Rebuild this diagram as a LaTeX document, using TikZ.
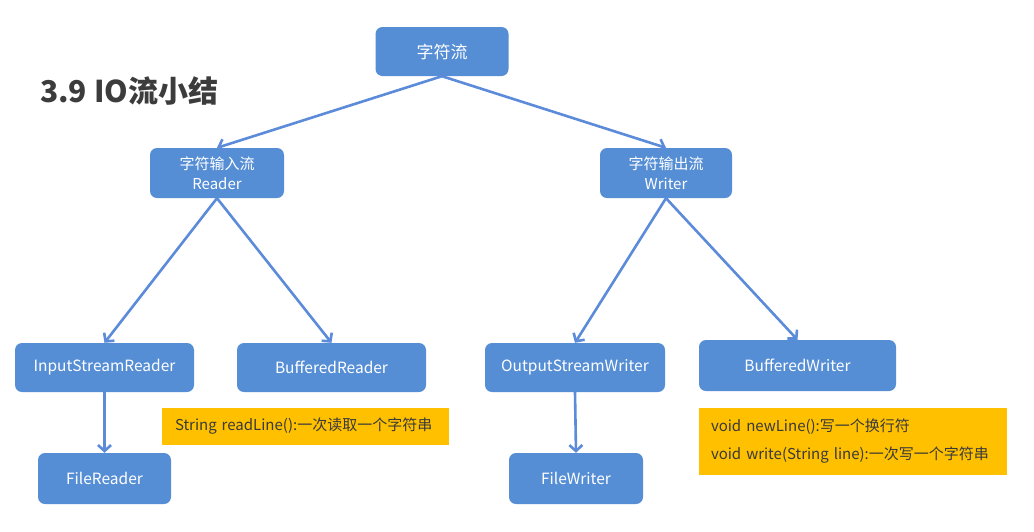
\documentclass[tikz,border=0pt]{standalone}
\usepackage{fontspec}
\setmainfont{Noto Sans CJK SC}
\usetikzlibrary{arrows.meta}
\definecolor{boxblue}{HTML}{558ED5}
\definecolor{arrowblue}{HTML}{5B8BD9}
\definecolor{noteyellow}{HTML}{FFC000}
\definecolor{titlegray}{HTML}{3C3C3C}
\definecolor{notetext}{HTML}{3A3A3A}
\begin{document}
\begin{tikzpicture}[x=1pt,y=-1pt,
  bluebox/.style={draw=none, fill=boxblue, rounded corners=7pt, text=white, inner sep=0pt, align=center, font=\fontsize{15.5}{20}\selectfont},
  notebox/.style={fill=noteyellow, inner ysep=0pt, text=notetext, align=left, font=\fontsize{15}{19}\selectfont},
  conn/.style={draw=arrowblue, line width=2.6pt, -{Straight Barb[length=6pt,width=13pt]}}]
\useasboundingbox (0,0) rectangle (1034,531);
\fill[white] (0,0) rectangle (1034,531);

\node[anchor=base west, text=titlegray, inner sep=0pt, font=\fontsize{30}{34}\selectfont\bfseries] (title) at (40,102) {3.9 IO流小结};

\node[bluebox, minimum width=133pt, minimum height=49pt, font=\fontsize{17}{20}\selectfont] (root) at (442,51.5) {字符流};
\node[bluebox, minimum width=134pt, minimum height=50pt, font=\fontsize{15}{20}\selectfont] (reader) at (217,173) {字符输入流\\Reader};
\node[bluebox, minimum width=132pt, minimum height=50pt, font=\fontsize{15}{20}\selectfont] (writer) at (666,173) {字符输出流\\Writer};

\node[bluebox, minimum width=179pt, minimum height=49pt] (isr) at (104.5,367.5) {InputStreamReader};
\node[bluebox, minimum width=189pt, minimum height=49pt] (br) at (331.5,367.5) {BufferedReader};
\node[bluebox, minimum width=133pt, minimum height=51pt] (fr) at (104.5,478.5) {FileReader};

\node[bluebox, minimum width=180pt, minimum height=49pt] (osw) at (575,367.5) {OutputStreamWriter};
\node[bluebox, minimum width=197pt, minimum height=51pt] (bw) at (797.5,365.5) {BufferedWriter};
\node[bluebox, minimum width=134pt, minimum height=51pt] (fw) at (576,478.5) {FileWriter};

\node[notebox, inner xsep=13pt, text width=261pt, minimum height=37pt] (note1) at (305.5,426.5) {String readLine():一次读取一个字符串};
\node[notebox, inner xsep=12pt, text width=284pt, minimum height=67pt] (note2) at (853,441.5) {void newLine():写一个换行符\\[9pt]void write(String line):一次写一个字符串};

\draw[conn] (root.south) -- (reader.north);
\draw[conn] (root.south) -- (writer.north);
\draw[conn] (reader.south) -- (isr.north);
\draw[conn] (reader.south) -- (br.north);
\draw[conn] (writer.south) -- (osw.north);
\draw[conn] (writer.south) -- (bw.north);
\draw[conn] (isr.south) -- (fr.north);
\draw[conn] (osw.south) -- (fw.north);
\end{tikzpicture}
\end{document}
